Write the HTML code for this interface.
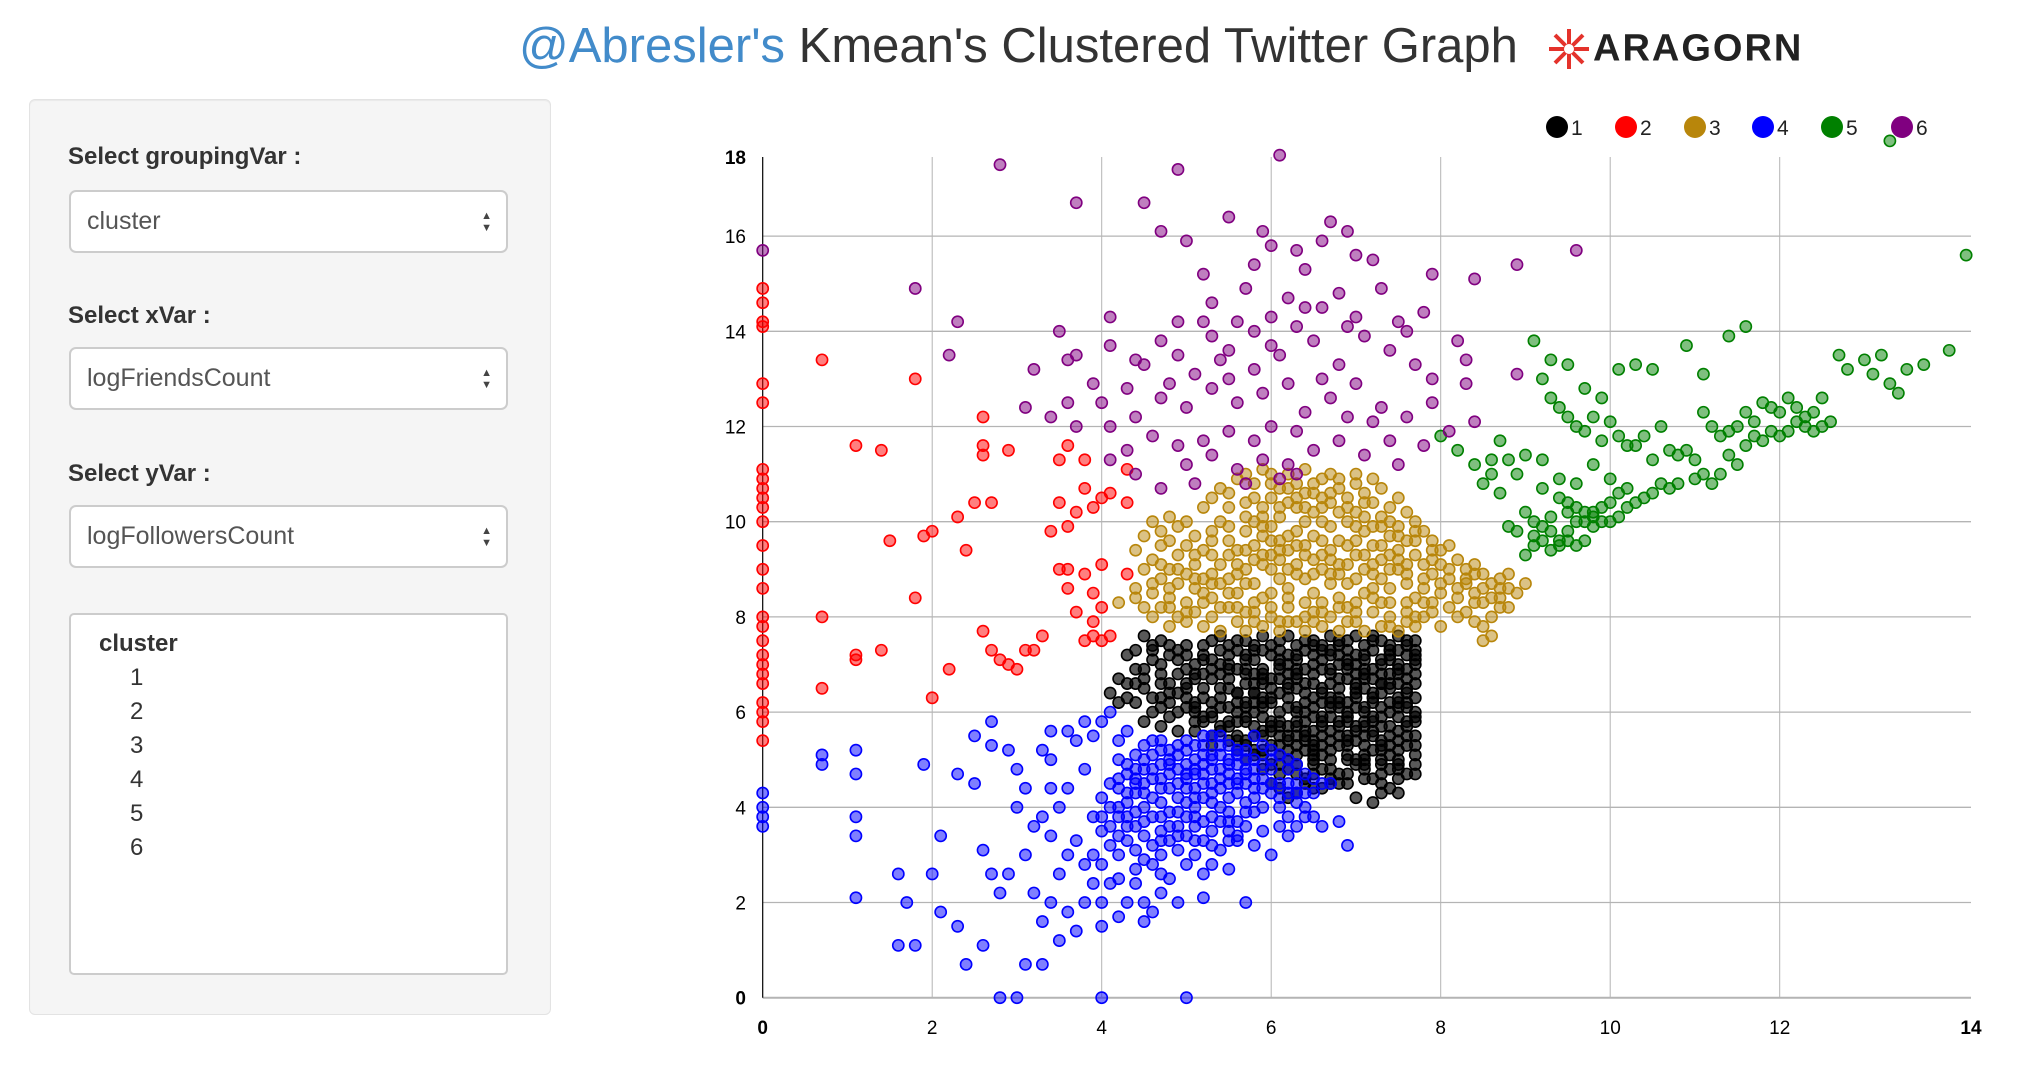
<!DOCTYPE html>
<html><head><meta charset="utf-8"><style>
body{margin:0;width:2036px;height:1086px;background:#fff;font-family:"Liberation Sans",sans-serif;position:relative;overflow:hidden}
.abs{position:absolute}
#panel{left:29px;top:99px;width:520px;height:914px;background:#f5f5f5;border:1px solid #e3e3e3;border-radius:6px;box-shadow:inset 0 1px 1px rgba(0,0,0,.05)}
.lbl{font-weight:bold;font-size:24px;color:#333;left:68px}
.sel{left:69px;width:439px;height:63px;background:#fff;border:2px solid #ccc;border-radius:7px;box-sizing:border-box;font-size:25px;color:#555;line-height:59px;padding-left:16px}
.arr{position:absolute;right:14px;top:18px;font-size:11px;line-height:12px;color:#444}
#list{left:69px;top:613px;width:439px;height:362px;background:#fff;border:2px solid #ccc;border-radius:5px;box-sizing:border-box;font-size:24px;color:#333}
</style></head><body>
<div class="abs" style="left:519px;top:18px;font-size:49px;white-space:nowrap;color:#333"><span style="color:#428bca">@Abresler's</span> Kmean's Clustered Twitter Graph</div>
<div class="abs" style="left:1545px;top:26px;height:46px;white-space:nowrap">
<svg width="48" height="46" viewBox="-24 -23 48 46" style="vertical-align:middle"><g stroke="#e4322b" stroke-width="4"><line x1="-20" y1="0" x2="20" y2="0"/><line x1="0" y1="-20" x2="0" y2="20"/><line x1="-14" y1="-14" x2="14" y2="14"/><line x1="-14" y1="14" x2="14" y2="-14"/></g><circle r="5" fill="#fff"/></svg><span style="font-size:38px;font-weight:bold;color:#222;vertical-align:middle;letter-spacing:2px">ARAGORN</span></div>

<div id="panel" class="abs"></div>
<div class="abs lbl" style="top:143px">Select groupingVar :</div>
<div class="abs sel" style="top:190px">cluster<div class="arr">▲<br>▼</div></div>
<div class="abs lbl" style="top:302px">Select xVar :</div>
<div class="abs sel" style="top:347px">logFriendsCount<div class="arr">▲<br>▼</div></div>
<div class="abs lbl" style="top:460px">Select yVar :</div>
<div class="abs sel" style="top:505px">logFollowersCount<div class="arr">▲<br>▼</div></div>
<div id="list" class="abs">
<div class="abs" style="left:28px;top:15px;font-weight:bold">cluster</div>
<div class="abs" style="left:59px;top:49px">1</div>
<div class="abs" style="left:59px;top:83px">2</div>
<div class="abs" style="left:59px;top:117px">3</div>
<div class="abs" style="left:59px;top:151px">4</div>
<div class="abs" style="left:59px;top:185px">5</div>
<div class="abs" style="left:59px;top:219px">6</div>
</div>

<svg id="chart" class="abs" style="left:0;top:0" width="2036" height="1086"></svg>
<script>
const xTicks=[0,2,4,6,8,10,12,14];
const yTicks=[0,2,4,6,8,10,12,14,16,18];
const clusterNames=["1","2","3","4","5","6"];
const clusterColors=["#000000","#ff0000","#b8860b","#0000ff","#008000","#800080"];
const c1="45,76 47,75 50,74 53,75 55,74 57,75 59,76 61,75 63,74 65,75 67,76 69,75 71,74 73,75 75,76 77,75 62,76 66,74 70,76 74,74 58,74 54,76 68,74 72,76 76,74 43,72 46,71 49,73 52,72 54,70 56,73 58,71 60,72 62,70 64,73 66,71 68,72 70,70 72,73 74,71 76,72 77,70 57,72 61,73 65,72 69,73 73,71 75,73 51,70 59,73 63,71 67,73 71,71 42,67 44,69 47,68 50,66 52,68 53,69 55,67 57,68 59,66 61,69 63,67 65,68 67,66 69,69 71,67 73,68 75,66 77,68 56,69 60,67 64,69 68,67 72,69 76,67 58,68 62,66 66,69 70,66 74,68 48,66 41,64 43,63 45,65 47,63 49,64 51,62 52,65 54,63 56,64 58,62 60,65 62,63 64,64 66,62 68,65 70,63 72,64 74,62 76,65 77,63 55,65 59,63 63,65 67,63 71,65 75,63 57,62 61,64 65,63 69,62 73,64 53,62 46,60 48,59 50,61 52,59 53,60 55,58 57,61 59,59 61,60 63,58 65,61 67,59 69,60 71,58 73,61 75,59 77,60 56,60 60,58 64,60 68,61 72,59 76,61 54,61 58,60 62,61 66,58 70,61 74,60 51,60 51,56 53,55 55,57 57,54 59,56 61,55 63,57 65,54 67,56 69,55 71,57 73,54 75,56 77,55 58,57 62,54 66,57 70,54 74,57 60,56 64,55 68,57 72,55 76,57 56,55 54,57 56,52 58,51 60,53 62,50 64,52 66,51 68,53 70,50 72,52 74,51 76,53 63,53 67,50 71,53 75,50 59,52 61,51 65,53 69,51 73,52 77,51 59,48 61,47 63,49 64,46 66,48 68,47 70,49 72,46 74,48 76,47 62,48 67,46 71,48 75,49 65,49 60,45 61,44 63,43 64,45 66,44 68,45 70,42 72,41 74,44 75,43 62,42 65,44 73,45 55,72 57,69 59,67 61,71 63,69 65,74 67,72 69,70 71,68 73,66 75,70 77,72 56,64 58,66 60,63 62,68 64,66 66,64 68,70 70,68 72,62 74,66 76,64 57,58 59,62 61,57 63,60 65,56 67,62 69,58 71,60 73,57 75,62 77,58 62,55 64,58 66,53 68,55 70,56 72,58 74,53 76,55 65,51 67,52 69,54 71,51 73,50 75,52 77,49 69,47 71,49 73,47 75,46 60,49 62,52 64,54 66,59 68,63 70,65 72,67 74,72 76,69 58,64 54,68 52,71 50,69 48,72 46,74 44,66 42,62 48,62 50,63 45,58 47,57 49,56 51,58 53,53 44,73 46,73 48,74 50,72 52,74 54,73 56,75 58,73 60,74 62,72 64,75 66,73 68,75 70,72 72,75 74,73 76,75 77,73 45,69 47,70 49,71 51,68 53,71 55,70 57,71 59,69 61,70 63,72 65,70 67,69 69,71 71,72 73,70 75,69 77,71 43,66 45,67 47,66 49,68 51,67 53,67 55,69 57,66 59,68 61,67 63,68 65,66 67,68 69,67 71,69 73,66 75,68 77,66 44,62 46,63 48,64 50,65 52,63 54,65 56,62 58,64 60,62 62,65 64,62 66,65 68,62 70,64 72,63 74,65 76,62 47,61 49,60 51,61 53,59 55,61 57,59 59,61 61,58 63,61 65,59 67,61 69,59 71,61 73,59 75,61 77,59 52,58 54,56 56,58 58,55 60,57 62,57 64,56 66,55 68,58 70,57 72,56 74,55 76,58 55,54 57,53 59,55 61,53 63,55 65,52 67,54 69,53 71,55 73,53 75,54 77,53 57,50 59,51 61,49 63,51 65,50 67,48 69,50 71,50 73,49 75,48 77,47 63,47 65,47 67,45 69,45 71,46 73,43 58,52 56,54";
const c2="0,149 0,146 0,142 0,141 0,129 0,125 0,111 0,109 0,107 0,105 0,103 0,100 0,95 0,90 0,86 0,80 0,78 0,75 0,72 0,70 0,68 0,66 0,62 0,60 0,58 0,54 7,134 11,116 14,115 18,130 26,122 26,116 26,114 29,115 35,113 36,116 38,113 38,107 39,103 40,105 41,106 37,102 35,104 25,104 27,104 23,101 15,96 19,97 20,98 24,94 34,98 36,99 36,90 38,89 40,91 43,89 35,90 36,86 39,85 40,82 37,81 39,79 41,76 40,75 39,76 7,80 18,84 26,77 14,73 11,72 11,71 7,65 20,63 22,69 27,73 29,70 31,73 32,73 33,76 28,71 30,69 38,75 43,104 43,111";
const c3="42,83 44,84 45,90 46,92 47,95 48,96 49,99 50,100 51,97 52,103 53,105 54,107 55,106 56,109 57,110 58,108 59,111 60,105 61,107 62,110 63,108 64,111 65,106 66,109 67,110 68,107 69,105 70,108 71,106 72,104 73,107 74,103 75,105 76,102 77,100 78,98 79,96 80,94 81,95 82,92 83,90 84,91 85,89 86,87 87,88 88,86 89,85 90,87 44,94 45,97 46,100 47,98 48,101 49,93 50,95 51,91 52,94 53,98 54,100 55,96 56,94 57,98 58,100 59,103 60,99 61,96 62,94 63,98 64,100 65,97 66,103 67,99 68,96 69,100 70,102 71,98 72,95 73,99 74,97 75,94 76,96 77,93 78,91 79,89 80,91 81,88 82,86 83,87 84,85 85,83 86,84 87,82 44,86 46,85 47,88 48,84 49,87 50,83 51,86 52,88 53,84 54,91 55,88 56,85 57,90 58,87 59,84 60,90 61,88 62,86 63,91 64,88 65,85 66,90 67,87 68,84 69,91 70,88 71,85 72,91 73,88 74,86 75,90 76,87 77,84 78,86 79,83 80,85 81,82 82,80 83,81 84,79 85,78 86,76 46,80 48,78 50,79 51,81 52,78 53,80 54,77 55,82 56,79 57,77 58,81 59,78 60,80 61,77 62,82 63,79 64,77 65,81 66,78 67,80 68,77 69,82 70,79 71,77 72,81 73,78 74,80 75,77 76,79 77,78 78,80 80,78 55,103 57,104 59,93 61,101 63,103 65,102 67,94 69,95 71,93 73,92 75,99 77,96 79,92 58,95 60,93 62,90 64,93 66,96 68,102 70,96 72,99 74,93 76,91 53,93 51,88 49,80 47,82 56,91 58,83 60,85 62,79 64,83 66,83 68,89 70,83 72,86 74,83 76,83 65,92 67,92 63,95 61,92 59,97 57,94 55,93 53,89 62,104 64,106 66,105 68,109 70,110 72,109 60,108 58,105 85,75 88,89 87,84 84,89 48,90 45,82 47,91 49,90 51,93 53,96 55,99 57,101 59,99 61,103 63,105 65,108 67,106 69,103 71,101 73,101 75,97 77,98 79,94 81,90 83,88 85,86 87,86 46,87 48,86 50,89 52,85 54,87 56,89 58,92 60,96 62,97 64,95 66,93 68,91 70,93 72,89 74,90 76,89 78,88 80,87 82,84 84,83 86,80 88,82 48,82 50,81 52,83 54,82 56,82 58,79 60,82 62,84 64,80 66,81 68,82 70,81 72,84 74,78 76,81 78,83 63,89 65,89 67,89 69,87 71,90 73,95 75,92 61,94 59,91 57,87 55,85 53,87 57,81 61,79 65,79 69,79 73,83 77,80 79,81 59,101 67,104 71,104 60,110 64,103 62,107 66,100 70,99 74,100";
const c4="40,42 41,45 42,40 43,47 44,43 45,50 46,46 47,41 48,52 49,48 50,44 51,53 52,49 53,45 54,51 55,47 56,43 57,50 58,46 59,44 60,48 61,42 62,45 63,43 64,40 42,50 43,38 44,36 45,40 46,54 47,49 48,44 49,39 50,52 51,47 52,42 53,55 54,48 55,53 56,49 57,45 58,42 59,49 60,45 46,38 47,35 48,36 49,42 50,38 51,40 52,37 53,41 54,44 55,39 56,37 57,41 58,39 41,36 42,34 43,43 44,48 45,45 46,42 47,52 48,47 49,53 50,49 51,44 52,51 53,48 54,46 55,42 56,46 57,52 39,38 40,35 41,32 42,30 43,33 44,31 45,34 46,32 47,30 48,33 49,31 50,34 51,36 52,33 53,35 54,37 55,35 56,34 57,36 45,48 48,50 51,50 53,50 56,52 44,45 47,46 50,46 52,45 55,45 58,44 61,40 62,38 63,41 0,43 0,40 0,38 0,36 7,51 7,49 11,52 11,47 11,38 11,34 11,21 16,26 17,20 18,11 16,11 19,49 20,26 21,34 21,18 23,47 23,15 24,7 25,45 25,55 26,31 26,11 27,58 27,53 27,26 28,22 28,0 29,52 29,26 30,48 30,40 30,0 31,44 31,30 31,7 32,36 32,22 33,38 33,16 33,7 34,50 34,34 34,20 35,40 35,26 35,12 36,56 36,44 36,30 36,18 37,54 37,33 37,14 38,58 38,48 38,28 38,20 39,55 39,30 39,24 40,58 40,28 40,20 40,15 40,0 41,60 41,24 42,25 42,17 42,54 43,20 43,56 44,27 44,24 45,29 45,20 45,16 46,28 46,18 47,26 47,22 48,25 49,20 50,28 50,0 51,30 52,26 52,21 53,28 54,31 55,27 56,33 57,20 58,32 59,35 60,30 61,36 62,34 63,36 64,38 65,38 66,36 68,37 69,32 58,55 59,53 60,52 61,51 62,50 63,49 64,47 65,46 66,45 67,45 34,44 33,52 34,56 41,40 42,44 43,41 44,39 45,43 46,48 47,44 48,39 49,45 50,41 51,42 52,47 53,43 54,40 55,50 56,45 57,47 58,48 59,46 60,43 61,45 62,43 63,45 64,43 65,43 44,46 46,51 48,49 50,47 52,53 54,53 56,51 58,50 60,50 62,48 47,38 49,36 51,38 53,38 55,37 57,39 59,40 43,36 45,37 47,33 49,34 51,33 53,32 55,33 42,38 40,38 42,46 44,51 43,49 45,53 47,54 49,51 51,48 53,51 55,49 57,48 50,54 52,55 54,55";
const c5="80,118 82,115 84,112 86,113 88,113 87,117 89,110 90,114 91,138 92,130 93,126 94,124 95,122 96,120 97,119 98,122 99,117 100,121 101,118 102,116 103,116 104,118 105,113 106,120 107,115 108,114 109,115 110,113 111,123 112,120 113,118 114,119 115,120 116,123 117,121 118,125 119,124 120,123 121,126 122,124 123,122 124,123 125,126 126,121 127,135 128,132 130,134 131,131 132,135 133,129 134,127 135,132 137,133 140,136 142,156 133,180 116,141 114,139 111,131 109,137 105,132 103,133 101,132 99,126 97,128 95,133 93,134 92,107 94,105 95,104 96,103 97,102 98,101 99,100 100,100 101,101 102,103 103,104 104,105 105,106 106,108 107,107 108,108 90,102 91,100 92,99 93,98 94,96 95,96 96,95 97,96 98,99 99,103 100,104 101,106 102,107 90,93 91,95 92,96 93,94 94,95 95,98 96,100 97,100 98,102 95,102 93,101 91,97 89,98 88,99 87,106 86,110 85,108 110,109 111,110 112,108 113,110 114,114 115,112 116,116 117,118 119,119 120,118 121,119 118,117 122,121 123,120 124,119 125,120 92,113 94,109 96,108 98,112 100,109";
const c6="0,157 18,149 23,142 22,135 28,175 37,167 45,167 49,174 47,161 50,159 55,164 61,177 60,158 63,157 67,163 69,161 70,156 64,153 72,155 52,152 58,154 57,149 53,146 52,142 49,142 41,143 35,140 36,134 37,135 32,132 41,137 44,134 47,138 49,135 53,139 55,136 58,140 60,143 62,147 64,145 63,141 66,145 68,148 70,143 73,149 75,142 76,140 74,136 79,152 84,151 89,154 96,157 78,144 79,130 82,138 83,134 71,139 68,133 65,138 61,135 58,132 55,130 51,131 45,133 43,128 40,125 39,129 34,122 37,120 41,120 44,122 47,126 50,124 53,128 56,125 59,127 62,129 64,123 67,126 70,129 73,124 76,122 79,125 83,129 60,120 63,119 58,117 55,119 52,117 49,116 46,118 43,115 41,113 44,110 50,112 53,114 56,111 62,112 65,115 68,117 71,114 74,117 78,116 72,121 69,122 57,108 61,109 63,110 59,113 47,107 51,108 54,134 66,130 60,137 48,129 56,142 69,141 77,133 84,121 81,119 75,112 31,124 36,125 89,131 59,161 66,159";
const clusterData=[c1,c2,c3,c4,c5,c6];

const NS="http://www.w3.org/2000/svg";
const svg=document.getElementById('chart');
const X0=762.7,XU=84.75,Y0=997.7,YU=47.6;
function xs(v){return X0+XU*v;}
function ys(v){return Y0-YU*v;}
const xEnd=1971,yTop=157;
function mk(t,a){const e=document.createElementNS(NS,t);for(const k in a)e.setAttribute(k,a[k]);svg.appendChild(e);return e;}
xTicks.forEach(t=>{
  if(t>0&&t<14){const l=mk('line',{x1:xs(t),x2:xs(t),y1:yTop,y2:Y0,stroke:'#b4b4b4','stroke-width':1});
  
  }
  const px=(t===14)?xEnd:xs(t);
  const tx=mk('text',{x:px,y:1034,'text-anchor':'middle','font-size':19,'font-family':'Liberation Sans, sans-serif','font-weight':(t===0||t===14)?'bold':'normal',fill:'#000'});
  tx.textContent=t;
  
  
});
yTicks.forEach(t=>{
  if(t>0&&t<18){const l=mk('line',{x1:X0,x2:xEnd,y1:ys(t),y2:ys(t),stroke:'#b4b4b4','stroke-width':1.3});
  
  }
  const py=(t===18)?yTop:ys(t);
  const tx=mk('text',{x:746,y:py+7,'text-anchor':'end','font-size':19,'font-family':'Liberation Sans, sans-serif','font-weight':(t===0||t===18)?'bold':'normal',fill:'#000'});
  tx.textContent=t;
  
  
});
const xa=mk('line',{x1:X0,x2:xEnd,y1:Y0,y2:Y0,stroke:'#b4b4b4','stroke-width':2});


const ya=mk('line',{x1:X0,x2:X0,y1:yTop,y2:Y0,stroke:'#000','stroke-width':1.2});


clusterData.forEach((str,ci)=>{
  const col=clusterColors[ci];
  const op=ci===0?0.65:0.5;
  str.trim().split(/\s+/).forEach(p=>{
    const [a,b]=p.split(',').map(Number);
    const c=mk('circle',{cx:xs(a/10),cy:ys(b/10),r:5.6,fill:col,'fill-opacity':op,stroke:col,'stroke-width':1.6});
    
    
  });
});
const legX=[1557,1626,1695,1763,1832,1902];
clusterNames.forEach((n,i)=>{
  const c=mk('circle',{cx:legX[i],cy:127,r:11,fill:clusterColors[i]});
  
  
  const t=mk('text',{x:legX[i]+14,y:135,'font-size':21,'font-family':'Liberation Sans, sans-serif',fill:'#222'});
  t.textContent=n;
  
  
});
</script>
</body></html>
